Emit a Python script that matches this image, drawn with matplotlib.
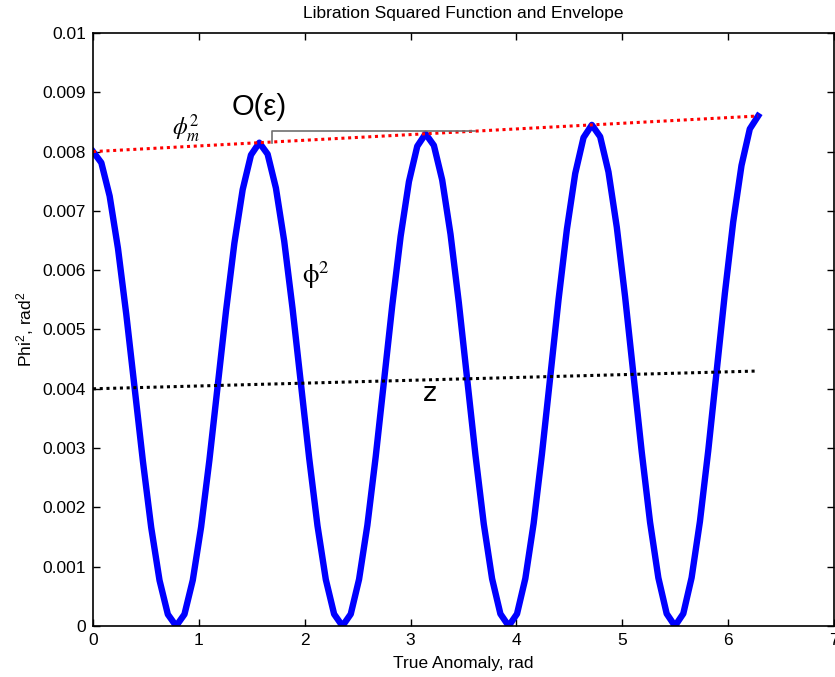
import matplotlib
matplotlib.use("Agg")
import matplotlib.pyplot as plt
import numpy as np

plt.rcParams['font.family'] = ['Liberation Sans', 'DejaVu Sans']
plt.rcParams['mathtext.fontset'] = 'custom'
plt.rcParams['mathtext.rm'] = 'Liberation Sans'
plt.rcParams['mathtext.it'] = 'Liberation Sans:italic'

# true anomaly samples, 0..2pi in steps of pi/40
anomaly = np.linspace(0, 2 * np.pi, 81)

# libration angle squared, rad^2
phi2 = [0.008000, 0.007812, 0.007250, 0.006369, 0.005256, 0.004019,
        0.002779, 0.001660, 0.000770, 0.000197, 0.0,
        0.000198, 0.000773, 0.001669, 0.002800, 0.004056, 0.005315,
        0.006452, 0.007358, 0.007943, 0.008150,
        0.007958, 0.007385, 0.006488, 0.005354, 0.004094, 0.002831,
        0.001691, 0.000784, 0.000201, 0.0,
        0.000201, 0.000787, 0.001700, 0.002852, 0.004131, 0.005413,
        0.006571, 0.007494, 0.008090, 0.008300,
        0.008104, 0.007521, 0.006607, 0.005452, 0.004169, 0.002883,
        0.001722, 0.000798, 0.000205, 0.0,
        0.000205, 0.000801, 0.001731, 0.002904, 0.004206, 0.005511,
        0.006691, 0.007630, 0.008236, 0.008450,
        0.008251, 0.007657, 0.006726, 0.005550, 0.004244, 0.002935,
        0.001752, 0.000813, 0.000208, 0.0,
        0.000209, 0.000815, 0.001762, 0.002956, 0.004281, 0.005609,
        0.006810, 0.007765, 0.008382, 0.008600]

# upper envelope phi_m^2 and mean level z (end points)
env_x = [0.0, 2 * np.pi]
env_y = [0.0080, 0.0086]
z_y = [0.0040, 0.0043]

fig = plt.figure(figsize=(8.35, 6.77), dpi=100)
ax = fig.add_axes([0.1114, 0.0753, 0.8874, 0.876])

ax.plot(anomaly, phi2, color='#0000ff', lw=4.6, solid_joinstyle='round')
ax.plot(env_x, env_y, color='#ff0000', lw=2.2, ls=(0, (1, 1.2)))
ax.plot(env_x, z_y, color='black', lw=2.2, ls=(0, (1, 1.2)))

# O(eps) bracket between first two peaks
ax.plot([1.69, 1.69, 3.61], [phi2[20], 0.00835, 0.00835], color='#707070', lw=1.2)

ax.text(1.31, 0.00876, 'O(ε)', fontsize=21, ha='left', va='center')
ax.text(0.75, 0.00838, r'$\phi_m^2$', fontsize=17, ha='left', va='center',
        math_fontfamily='stix')
ax.text(1.97, 0.00592, r'$\mathrm{\phi}^2$', fontsize=19, ha='left', va='center',
        math_fontfamily='stix')
ax.text(3.12, 0.00392, 'z', fontsize=19, ha='left', va='center',
        family=['DejaVu Sans'])

ax.set_xlim(0, 7)
ax.set_ylim(0, 0.01)
ax.set_xticks(range(0, 8))
ax.set_yticks(np.arange(0, 0.0101, 0.001))
ax.set_yticklabels(['0', '0.001', '0.002', '0.003', '0.004', '0.005',
                    '0.006', '0.007', '0.008', '0.009', '0.01'])
ax.tick_params(direction='in', length=5, width=1, labelsize=12.5,
               top=True, right=True, pad=5)
for s in ax.spines.values():
    s.set_linewidth(1.2)

ax.set_title('Libration Squared Function and Envelope', fontsize=12.5, pad=11)
ax.set_xlabel('True Anomaly, rad', fontsize=12.5, labelpad=6)
ax.set_ylabel('Phi$^2$, rad$^2$', fontsize=12.5, labelpad=5)

fig.savefig('out.png', dpi=100)
